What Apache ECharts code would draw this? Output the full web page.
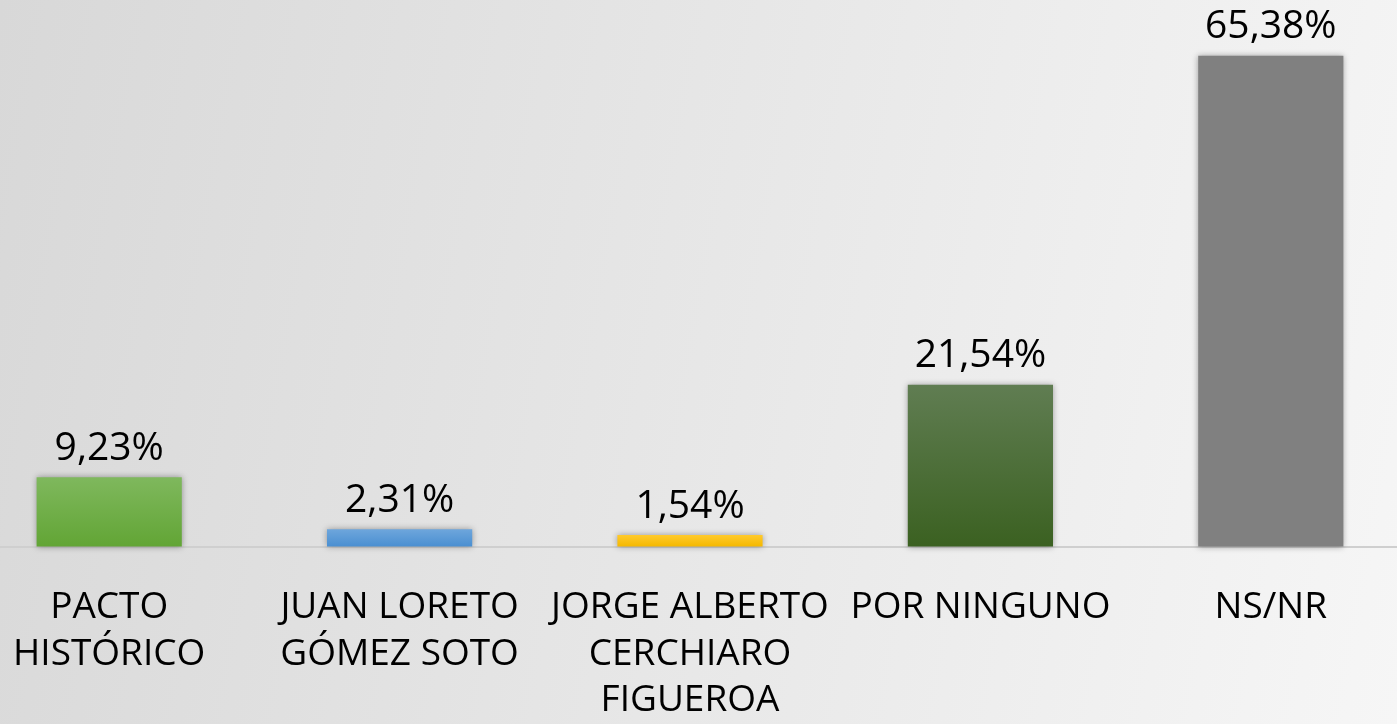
<!DOCTYPE html>
<html>
<head>
<meta charset="utf-8">
<script src="https://cdn.jsdelivr.net/npm/echarts@6/dist/echarts.min.js"></script>
<style>
html,body{margin:0;padding:0;width:1397px;height:724px;overflow:hidden;position:relative;
  background:linear-gradient(100deg,#d8d8d8,#f6f6f6);}
#chart{position:absolute;left:-36px;top:0;width:1452px;height:724px;}
</style>
</head>
<body>
<div id="chart"></div>
<script>
var categories = ['PACTO\nHISTÓRICO', 'JUAN LORETO\nGÓMEZ SOTO', 'JORGE ALBERTO\nCERCHIARO\nFIGUEROA', 'POR NINGUNO', 'NS/NR'];
var values = [9.23, 2.31, 1.54, 21.54, 65.38];
var barColors = [
  ['#7fb85d', '#62a535'],
  ['#6ea6dc', '#4a8fd1'],
  ['#ffca2c', '#f5b800'],
  ['#607d52', '#3b6121'],
  ['#808080', '#808080']
];

var chart = echarts.init(document.getElementById('chart'));
var FONT = '"Open Sans", sans-serif';
chart.setOption({
  animation: false,
  backgroundColor: 'transparent',
  grid: {left: 0, right: 0, top: 0, bottom: 177, containLabel: false},
  xAxis: {
    type: 'category',
    data: categories,
    axisLine: {show: true, lineStyle: {color: '#cfcfcf', width: 2}},
    axisTick: {show: false},
    axisLabel: {
      interval: 0, color: '#000', fontFamily: FONT, fontSize: 37,
      lineHeight: 46.5, margin: 38
    }
  },
  yAxis: {type: 'value', min: 0, max: 72.8, show: false, splitLine: {show: false}},
  series: [{
    type: 'bar',
    barWidth: '50%',
    data: values.map(function (v, i) {
      return {
        value: v,
        itemStyle: {
          color: {type: 'linear', x: 0, y: 0, x2: 0, y2: 1,
            colorStops: [{offset: 0, color: barColors[i][0]}, {offset: 1, color: barColors[i][1]}]},
          shadowBlur: 6, shadowColor: 'rgba(0,0,0,0.35)'
        }
      };
    }),
    label: {
      show: true, position: 'top', distance: 9,
      color: '#000', fontFamily: FONT, fontSize: 39,
      formatter: function (p) { return p.value.toFixed(2).replace('.', ',') + '%'; }
    }
  }]
});
</script>
</body>
</html>
